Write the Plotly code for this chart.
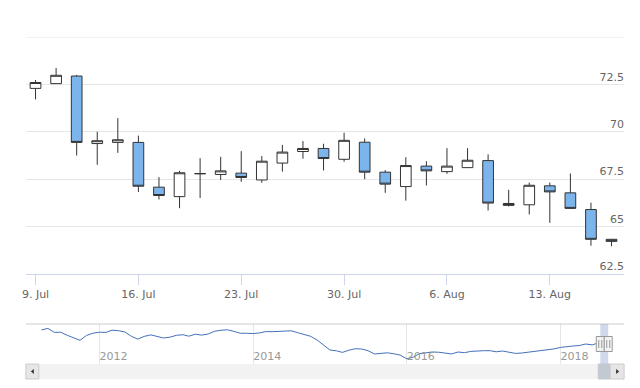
import plotly.graph_objects as go
import pandas as pd

# ---- main candlestick data (weekdays, 9 Jul - 16 Aug 2018) ----
dates = ["2018-07-09", "2018-07-10", "2018-07-11", "2018-07-12", "2018-07-13",
         "2018-07-16", "2018-07-17", "2018-07-18", "2018-07-19", "2018-07-20",
         "2018-07-23", "2018-07-24", "2018-07-25", "2018-07-26", "2018-07-27",
         "2018-07-30", "2018-07-31", "2018-08-01", "2018-08-02", "2018-08-03",
         "2018-08-06", "2018-08-07", "2018-08-08", "2018-08-09", "2018-08-10",
         "2018-08-13", "2018-08-14", "2018-08-15", "2018-08-16"]
opens = [72.29, 72.54, 72.94, 69.38, 69.44, 69.44, 67.08, 66.58, 67.78, 67.75,
         67.82, 67.46, 68.35, 68.96, 69.12, 68.55, 69.45, 67.87, 67.11, 68.19,
         67.90, 68.11, 68.48, 66.22, 66.15, 67.15, 66.78, 65.90, 64.33]
highs = [72.73, 73.37, 73.00, 70.00, 70.72, 69.80, 67.61, 67.94, 68.61, 68.68,
         68.98, 68.72, 69.31, 69.51, 69.37, 69.95, 69.65, 67.98, 68.66, 68.45,
         69.14, 69.14, 68.81, 66.94, 67.32, 67.32, 67.80, 66.26, 64.35]
lows = [71.71, 72.54, 68.75, 68.26, 68.89, 66.82, 66.43, 65.97, 66.51, 67.46,
        67.36, 67.31, 67.90, 68.58, 67.96, 68.42, 67.50, 66.78, 66.37, 67.17,
        67.78, 68.11, 65.85, 66.06, 65.64, 65.20, 65.96, 63.99, 63.96]
closes = [72.60, 72.98, 69.44, 69.53, 69.58, 67.13, 66.64, 67.84, 67.80, 67.94,
          67.59, 68.45, 68.93, 69.12, 68.59, 69.55, 67.87, 67.24, 68.22, 67.94,
          68.19, 68.50, 66.24, 66.12, 67.18, 66.83, 65.96, 64.33, 64.22]

x_tick_dates = ["2018-07-09", "2018-07-16", "2018-07-23", "2018-07-30", "2018-08-06", "2018-08-13"]
x_tick_labels = ["9. Jul", "16. Jul", "23. Jul", "30. Jul", "6. Aug", "13. Aug"]
y_tick_vals = [62.5, 65, 67.5, 70, 72.5, 75]
y_tick_labels = ["62.5", "65", "67.5", "70", "72.5", ""]

# ---- navigator (monthly readings Apr 2011 - Jun 2018) ----
nav_values = [106.0, 110.0, 99.3, 99.8, 91.5, 85.0, 78.0, 91.2, 97.1,
              99.8, 99.3, 105.2, 103.9, 100.4, 88.8, 81.3, 88.5, 92.6, 88.3, 84.2, 86.4,
              91.5, 93.1, 89.1, 94.4, 92.0, 95.0, 102.2, 105.2, 106.3, 102.2, 96.9, 97.1,
              96.1, 97.9, 101.4, 101.2, 102.0, 104.7, 103.6, 98.5, 93.9, 88.8, 78.8, 66.5,
              51.9, 49.8, 45.5, 51.4, 55.4, 54.6, 50.1, 41.2, 43.1, 44.4, 41.7, 38.2,
              28.3, 32.6, 42.0, 44.9, 46.6, 46.0, 42.8, 41.4, 46.6, 44.7, 48.2, 50.1,
              50.1, 50.1, 47.1, 49.2, 46.0, 42.8, 43.9, 46.0, 47.6, 49.2, 51.1, 54.9,
              58.9, 61.6, 62.7, 64.0, 68.1, 65.7]
nav_months = pd.date_range("2011-04-01", periods=len(nav_values), freq="MS")
nav_x = list(nav_months.strftime("%Y-%m-%d")) + dates
nav_y = nav_values + closes

W, H = 640, 388
def px(x):
    return x / W
def py(y):
    return 1 - y / H

fig = go.Figure()
fig.add_trace(go.Candlestick(
    x=dates, open=opens, high=highs, low=lows, close=closes,
    increasing=dict(fillcolor="#ffffff", line=dict(color="#333333", width=1)),
    decreasing=dict(fillcolor="#7cb5ec", line=dict(color="#333333", width=1)),
    whiskerwidth=0, xaxis="x", yaxis="y", showlegend=False))
fig.add_trace(go.Scatter(
    x=nav_x, y=nav_y, mode="lines", line=dict(color="#4470bb", width=1),
    xaxis="x2", yaxis="y2", showlegend=False, hoverinfo="skip"))

font = dict(family="DejaVu Sans", size=11, color="#666666")
shapes = []
# top gridline (75)
shapes.append(dict(type="line", xref="paper", yref="y", x0=px(22), x1=px(624),
                   y0=75, y1=75, line=dict(color="#e6e6e6", width=1), layer="below"))
# navigator top outline
shapes.append(dict(type="line", xref="paper", yref="paper", x0=px(22), x1=px(624),
                   y0=py(324), y1=py(324), line=dict(color="#cccccc", width=1)))
# navigator mask over selected range
shapes.append(dict(type="rect", xref="x2", yref="paper", x0=dates[0], x1=dates[-1],
                   y0=py(364), y1=py(324), fillcolor="rgba(102,133,194,0.3)", line=dict(width=0)))
# scrollbar track
shapes.append(dict(type="rect", xref="paper", yref="paper", x0=px(22), x1=px(624),
                   y0=py(379), y1=py(364), fillcolor="#f2f2f2", line=dict(width=0)))
# thumb
shapes.append(dict(type="rect", xref="paper", yref="paper", x0=px(598), x1=px(610),
                   y0=py(379), y1=py(364), fillcolor="#c3c9d1", line=dict(color="#c3c9d1", width=1)))
# buttons
for x0, x1 in [(22, 35), (610, 624)]:
    shapes.append(dict(type="rect", xref="paper", yref="paper", x0=px(x0), x1=px(x1),
                       y0=py(379), y1=py(364), fillcolor="#e6e6e6", line=dict(color="#cccccc", width=1)))
# arrows
shapes.append(dict(type="path", xref="paper", yref="paper",
                   path=f"M {px(27)} {py(371.5)} L {px(30)} {py(369)} L {px(30)} {py(374)} Z",
                   fillcolor="#333333", line=dict(width=0)))
shapes.append(dict(type="path", xref="paper", yref="paper",
                   path=f"M {px(619)} {py(371.5)} L {px(616)} {py(369)} L {px(616)} {py(374)} Z",
                   fillcolor="#333333", line=dict(width=0)))
# handles
for d in [dates[0], dates[-1]]:
    shapes.append(dict(type="rect", xref="x2", yref="paper", xsizemode="pixel", xanchor=d,
                       x0=-4, x1=4, y0=py(351.5), y1=py(336.5),
                       fillcolor="#f2f2f2", line=dict(color="#999999", width=1)))
    for off in (-1.5, 1.5):
        shapes.append(dict(type="line", xref="x2", yref="paper", xsizemode="pixel", xanchor=d,
                           x0=off, x1=off, y0=py(348), y1=py(340),
                           line=dict(color="#999999", width=1)))

fig.update_layout(
    width=W, height=H, margin=dict(l=0, r=0, t=0, b=0),
    paper_bgcolor="#ffffff", plot_bgcolor="#ffffff",
    font=font, boxgap=0.48, boxgroupgap=0, showlegend=False,
    xaxis=dict(domain=[px(22), px(624)], anchor="y", type="date",
               range=["2018-07-06 12:43", "2018-08-16 14:40"],
               rangebreaks=[dict(bounds=["sat", "mon"])],
               rangeslider=dict(visible=False),
               tickvals=x_tick_dates, ticktext=x_tick_labels,
               ticks="outside", ticklen=10, tickcolor="#ccd6eb", tickwidth=1,
               showline=True, linecolor="#ccd6eb", linewidth=1,
               showgrid=False, zeroline=False, tickfont=font),
    yaxis=dict(domain=[py(274), py(37)], anchor="x", range=[62.5, 75], side="right",
               tickvals=y_tick_vals, ticktext=y_tick_labels,
               ticklabelposition="inside top", ticklabelstandoff=-3, ticks="",
               gridcolor="#e6e6e6", gridwidth=1, showline=False, zeroline=False,
               tickfont=font),
    xaxis2=dict(domain=[px(22), px(624)], anchor="y2", type="date",
                range=["2011-01-16 10:00", "2018-10-30 08:00"],
                tick0="2012-01-01", dtick="M24", tickformat="%Y",
                ticklabelposition="inside right", ticklabelstandoff=-4, ticks="",
                showgrid=True, gridcolor="#e6e6e6", gridwidth=1,
                showline=False, zeroline=False,
                tickfont=dict(family="DejaVu Sans", size=11, color="#999999")),
    yaxis2=dict(domain=[py(364), py(324)], anchor="x2", range=[14.3, 121.9],
                showgrid=False, showticklabels=False, zeroline=False, showline=False),
    shapes=shapes,
)

fig.write_html("out.html", config={"displayModeBar": False},
               post_script="document.body.style.margin='0px';")
